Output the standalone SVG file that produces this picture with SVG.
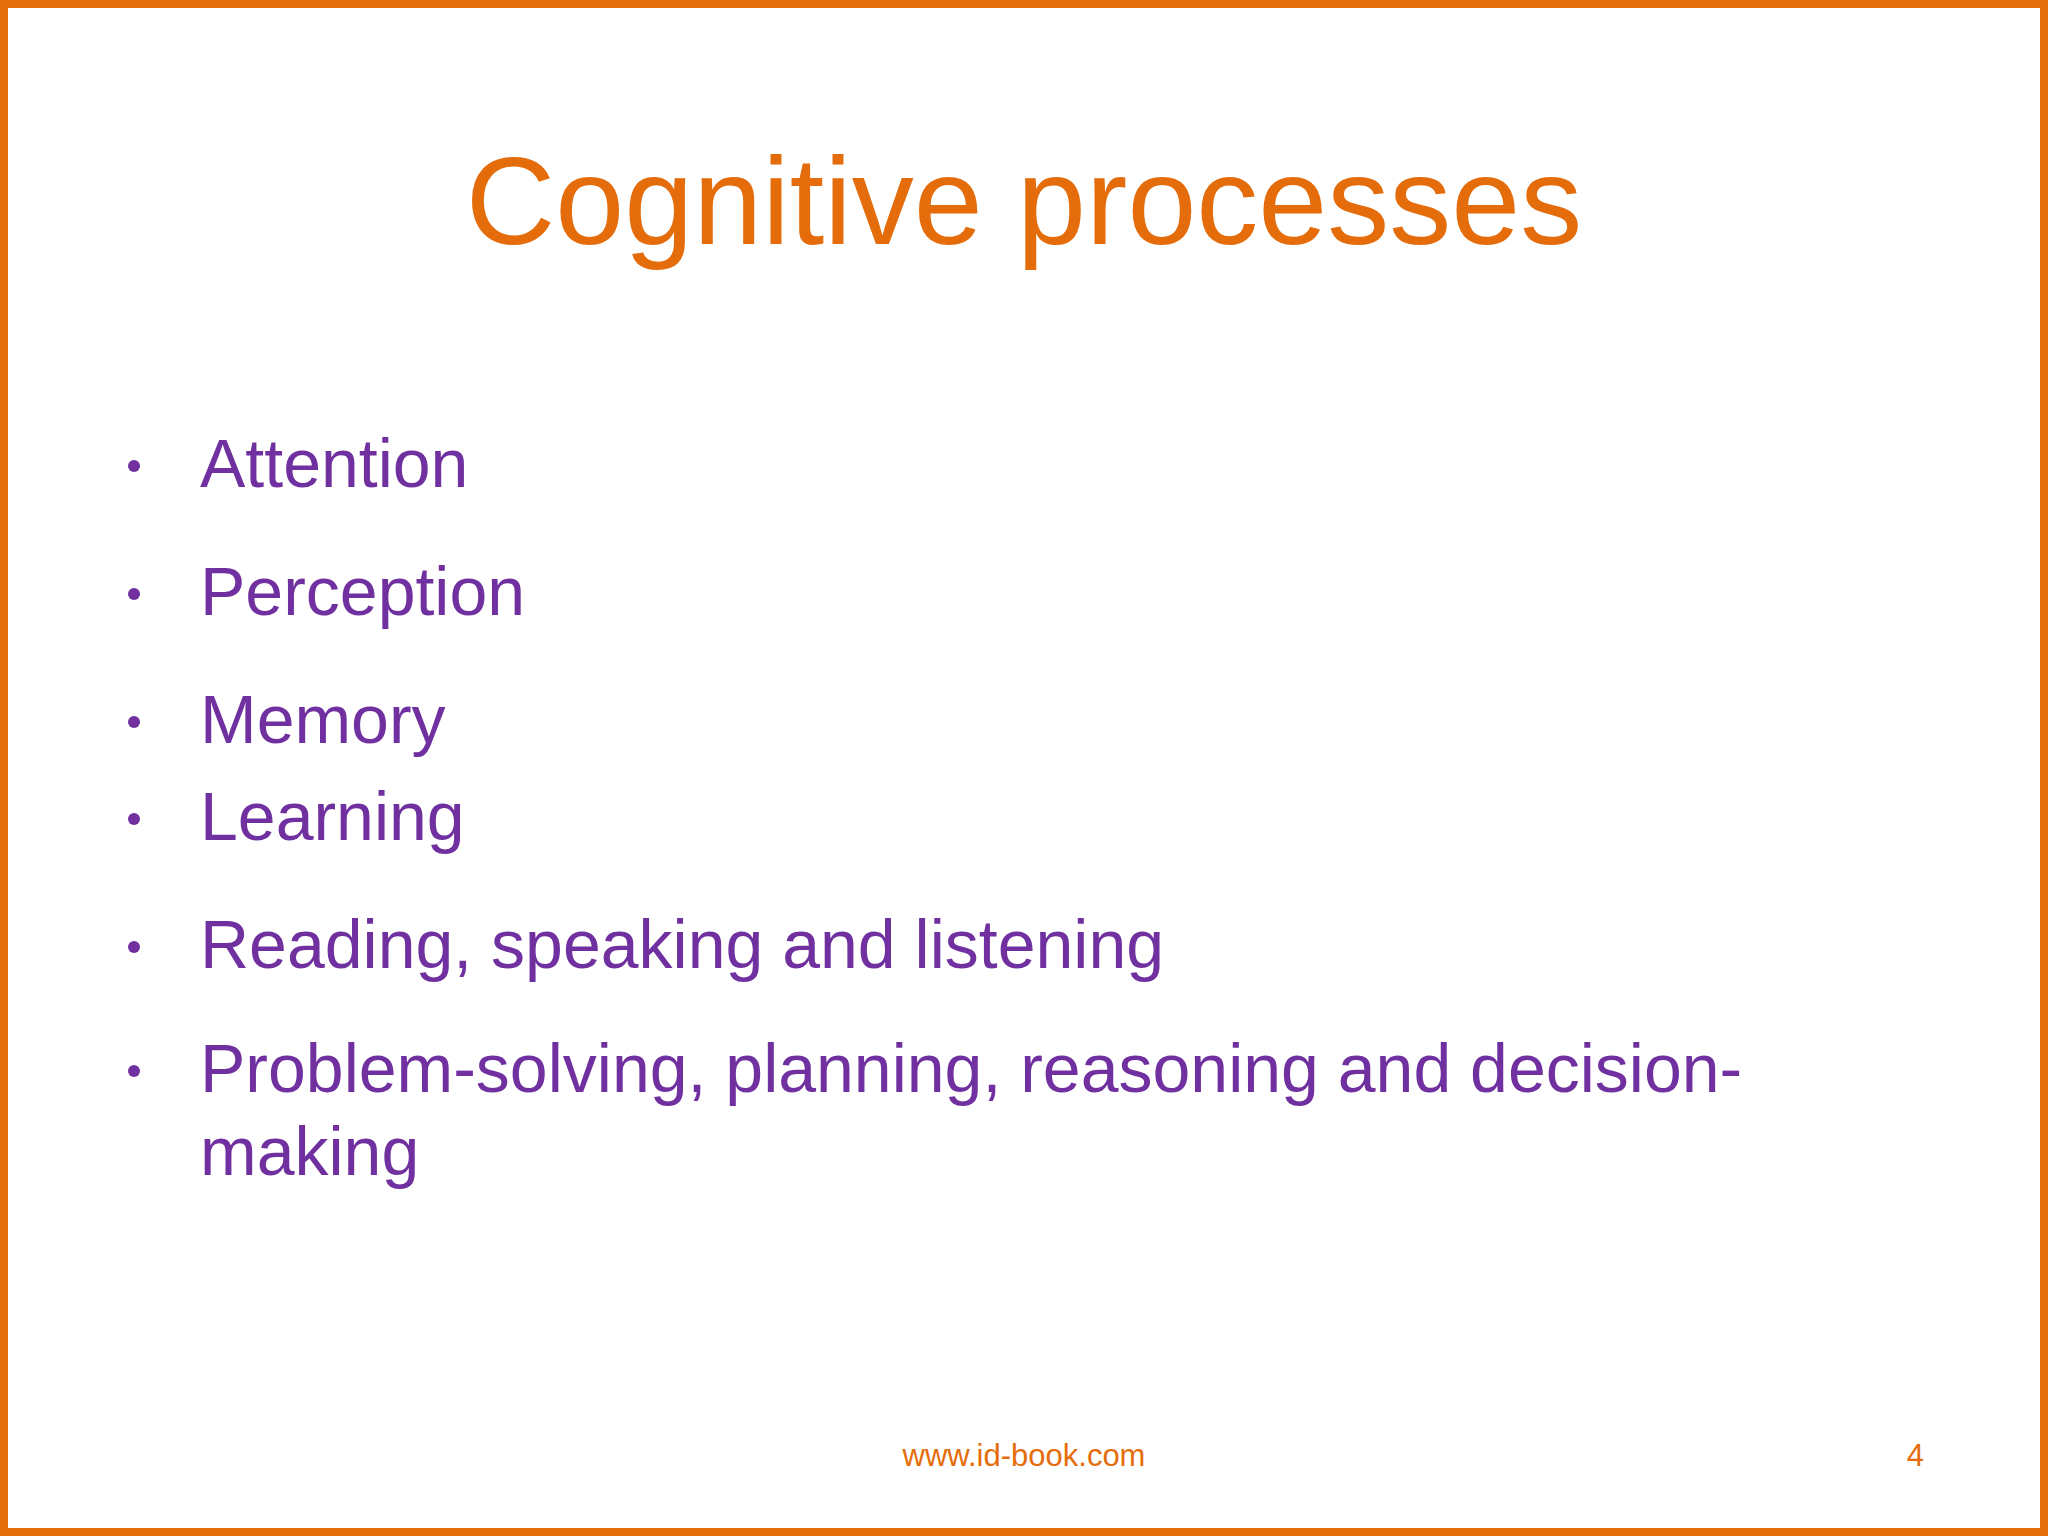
<svg xmlns="http://www.w3.org/2000/svg" width="2048" height="1536" viewBox="0 0 2048 1536">
<style>
.t{font-family:"Liberation Sans",Arial,sans-serif;}
.b{font-size:68px;fill:#7030A0;}
.d{fill:#7030A0;}
.o{fill:#E46C0A;}
</style>
<rect x="4" y="4" width="2040" height="1528" fill="#FFFFFF" stroke="#E46C0A" stroke-width="8"/>
<g id="title"><text class="t o" x="1024" y="244" font-size="124" text-anchor="middle">Cognitive processes</text></g>
<g id="bullets">
<circle class="d" cx="134" cy="466" r="6"/><text class="t b" x="200" y="487">Attention</text>
<circle class="d" cx="134" cy="594" r="6"/><text class="t b" x="200" y="615">Perception</text>
<circle class="d" cx="134" cy="722" r="6"/><text class="t b" x="200" y="743">Memory</text>
<circle class="d" cx="134" cy="819" r="6"/><text class="t b" x="200" y="840">Learning</text>
<circle class="d" cx="134" cy="947" r="6"/><text class="t b" x="200" y="968">Reading, speaking and listening</text>
<circle class="d" cx="134" cy="1071" r="6"/><text class="t b" x="200" y="1092">Problem-solving, planning, reasoning and decision-</text>
<text class="t b" x="200" y="1175">making</text>
</g>
<g id="footer">
<text class="t o" x="1024" y="1466" font-size="31" text-anchor="middle">www.id-book.com</text>
<text class="t o" x="1924" y="1466" font-size="31" text-anchor="end">4</text>
</g>
</svg>
